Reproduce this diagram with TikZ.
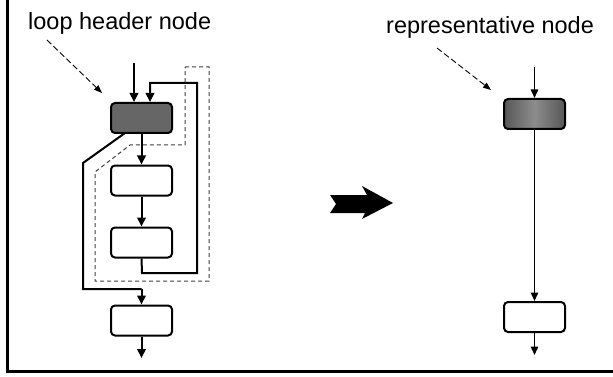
\documentclass[tikz,border=0pt]{standalone}
\usepackage{fontspec}
\setmainfont{Liberation Sans}
\usetikzlibrary{arrows.meta}
\begin{document}
\begin{tikzpicture}[x=1pt,y=-1pt,
  box/.style={draw,line width=2pt,rounded corners=4pt,minimum width=61pt,minimum height=30pt,inner sep=0pt},
  conn/.style={line width=2pt,-{Triangle[length=9pt,width=8.5pt]}},
  connr/.style={line width=1.4pt,-{Triangle[length=8.5pt,width=7.5pt]}},
  loopline/.style={line width=2pt},
  lbl/.style={font=\fontsize{23.5}{28}\selectfont,inner sep=0pt},
  ptr/.style={line width=0.9pt,dash pattern=on 6pt off 3pt,-{Triangle[length=8pt,width=6pt]}},
  region/.style={line width=1pt,draw=black!75,dash pattern=on 4pt off 3pt}]
\useasboundingbox (0,0) rectangle (613,377);
% frame
\draw[line width=3pt] (7.5,0) -- (7.5,371.5) -- (613,371.5);
% left side
\draw[region] (185,67) -- (209,67) -- (209,281) -- (95,281) -- (95,172) -- (130,145) -- (185,145) -- cycle;
\node[box,fill=black!60] (h) at (141.5,118) {};
\node[box] (b2) at (141.5,180.5) {};
\node[box] (b3) at (141.5,242.5) {};
\node[box] (b4) at (141.5,320.5) {};
\node[lbl,anchor=base west] (t1) at (28,30) {loop header node};
\coordinate (p1s) at (47,40);
\coordinate (p1e) at (102,93);
\draw[ptr] (p1s) -- (p1e);
\coordinate (i1) at (134,63);
\draw[conn] (i1) -- (i1 |- h.north);
\coordinate (l1) at (142,273);
\coordinate (l2) at (197,273);
\coordinate (l3) at (197,83);
\coordinate (l4) at (150,83);
\draw[conn] (b3.south) -- (l1) -- (l2) -- (l3) -- (l4) -- (l4 |- h.north);
\draw[conn] (h.south) -- (b2.north);
\draw[conn] (b2.south) -- (b3.north);
\coordinate (e0) at (125,133);
\coordinate (e1) at (83,163);
\coordinate (e2) at (83,289);
\draw[loopline] (e0) -- (e1) -- (e2) -- (e2 -| b4.north);
\draw[conn] (e2 -| b4.north) -- (b4.north);
\coordinate (o1) at (141.5,358);
\draw[conn] (b4.south) -- (o1);
% big arrow
\fill (330,195) -- (367,195) -- (362,186) -- (393,203) -- (362,219) -- (365,213) -- (330,213) -- (336,204) -- cycle;
% right side
\node[box,left color=black!66,right color=black!66,middle color=black!45] (r) at (534.5,114) {};
\node[box] (rb) at (534.5,317) {};
\node[lbl,anchor=base west] (t2) at (386,34) {representative node};
\coordinate (p2s) at (437,48);
\coordinate (p2e) at (491,90);
\draw[ptr] (p2s) -- (p2e);
\coordinate (i2) at (534.5,67);
\draw[connr] (i2) -- (r.north);
\draw[connr] (r.south) -- (rb.north);
\coordinate (o2) at (534.5,355);
\draw[connr] (rb.south) -- (o2);
\end{tikzpicture}
\end{document}
